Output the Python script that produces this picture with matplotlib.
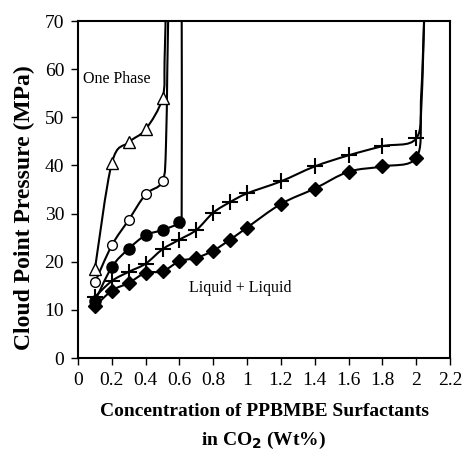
import numpy as np
import matplotlib.pyplot as plt
from matplotlib.path import Path
from matplotlib.patches import PathPatch

plt.rcParams['font.family'] = ['Liberation Serif', 'DejaVu Serif']

# measured cloud points (wt% , MPa)
tri_x = [0.1, 0.2, 0.3, 0.4, 0.5]
tri_y = [18.5, 40.5, 44.8, 47.5, 54.0]
ocirc_x = [0.1, 0.2, 0.3, 0.4, 0.5]
ocirc_y = [15.7, 23.4, 28.7, 34.0, 36.7]
fcirc_x = [0.1, 0.2, 0.3, 0.4, 0.5, 0.6]
fcirc_y = [11.8, 18.9, 22.7, 25.5, 26.6, 28.2]
cross_x = [0.1, 0.2, 0.3, 0.4, 0.5, 0.6, 0.7, 0.8, 0.9, 1.0, 1.2, 1.4, 1.6, 1.8, 2.0]
cross_y = [12.7, 16.0, 17.9, 19.6, 22.6, 24.6, 26.6, 30.2, 32.4, 34.2, 36.7, 39.8, 42.1, 44.0, 45.6]
diam_x = [0.1, 0.2, 0.3, 0.4, 0.5, 0.6, 0.7, 0.8, 0.9, 1.0, 1.2, 1.4, 1.6, 1.8, 2.0]
diam_y = [10.7, 14.0, 15.6, 17.7, 18.0, 20.1, 20.8, 22.3, 24.6, 27.1, 32.0, 35.2, 38.7, 39.8, 41.6]

# phase boundary tails (unmarked line ends, clipped at the top)
tri_tail_x = [0.512, 0.52]
tri_tail_y = [62.0, 74.0]
ocirc_tail_x = [0.52, 0.528, 0.535]
ocirc_tail_y = [44.0, 60.0, 74.0]
fcirc_tail_x = [0.613, 0.613]
fcirc_tail_y = [31.0, 74.0]
cross_tail_x = [2.03, 2.05]
cross_tail_y = [55.0, 74.0]
diam_tail_x = [2.03, 2.05]
diam_tail_y = [52.0, 74.0]


def smooth_path(xs, ys):
    # Excel-style smoothed line: cubic Bezier through every point
    p = np.column_stack([xs, ys]).astype(float)
    n = len(p)
    verts = [p[0]]
    codes = [Path.MOVETO]
    for i in range(n - 1):
        p0 = p[i - 1] if i > 0 else p[i]
        p3 = p[i + 2] if i + 2 < n else p[i + 1]
        c1 = p[i] + (p[i + 1] - p0) / 6.0
        c2 = p[i + 1] - (p3 - p[i]) / 6.0
        verts += [c1, c2, p[i + 1]]
        codes += [Path.CURVE4] * 3
    return Path(verts, codes)


fig = plt.figure(figsize=(4.63, 4.53), dpi=100)
ax = fig.add_axes([0.1685, 0.2097, 0.8035, 0.7439])

series = [
    (tri_x, tri_y, tri_tail_x, tri_tail_y, dict(marker='^', ms=8.5, mfc='white')),
    (ocirc_x, ocirc_y, ocirc_tail_x, ocirc_tail_y, dict(marker='o', ms=7, mfc='white')),
    (fcirc_x, fcirc_y, fcirc_tail_x, fcirc_tail_y, dict(marker='o', ms=8, mfc='black')),
    (cross_x, cross_y, cross_tail_x, cross_tail_y, dict(marker='+', ms=11, mew=1.5)),
    (diam_x, diam_y, diam_tail_x, diam_tail_y, dict(marker='D', ms=7, mfc='black')),
]
for x, y, tx, ty, mk in series:
    path = smooth_path(list(x) + tx, list(y) + ty)
    ax.add_patch(PathPatch(path, fill=False, ec='black', lw=1.5, zorder=2))
    ax.plot(x, y, ls='none', color='black', mec='black', zorder=3, clip_on=False, **mk)

ax.set_xlim(0, 2.2)
ax.set_ylim(0, 70)
ax.set_xticks(np.arange(0, 2.21, 0.2))
ax.set_xticklabels(['0', '0.2', '0.4', '0.6', '0.8', '1', '1.2', '1.4', '1.6', '1.8', '2', '2.2'])
ax.set_yticks(range(0, 71, 10))
ax.tick_params(direction='out', length=5, width=1, labelsize=14, pad=5)
for s in ax.spines.values():
    s.set_linewidth(1.5)

ax.text(0.03, 58, 'One Phase', fontsize=11.5, va='center')
ax.text(0.655, 14.5, 'Liquid + Liquid', fontsize=11.5, va='center')

ax.set_ylabel('Cloud Point Pressure (MPa)', fontsize=17, fontweight='bold')
ax.yaxis.set_label_coords(-0.115, 0.445)
ax.set_xlabel('Concentration of PPBMBE Surfactants\nin CO$_\\mathbf{2}$ (Wt%)', fontsize=14,
              fontweight='bold', labelpad=10, linespacing=1.65)

fig.savefig('out.png', dpi=100)
